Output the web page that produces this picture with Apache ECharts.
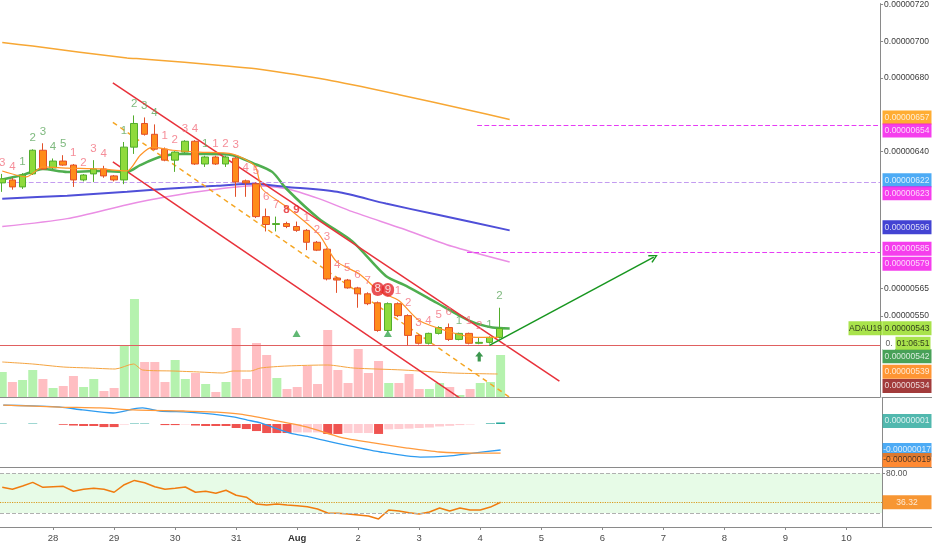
<!DOCTYPE html>
<html><head><meta charset="utf-8">
<script src="https://cdn.jsdelivr.net/npm/echarts@6/dist/echarts.min.js"></script>
<style>html,body{margin:0;padding:0;background:#fff}#c{width:932px;height:550px}</style>
</head><body><div id="c"></div>
<script>
// ADA/BTC 4h candles, prices in satoshi (1e-8 BTC); x = candle index (0 = Jul 27 04:00)
const candles = [ // [open, close, low, high]
 [622.7,624.9,617.8,627.6],[624.3,620.5,619.0,625.4],[620.5,627.0,619.4,628.0],[627.6,640.5,627.0,641.0],
 [640.5,630.3,629.7,644.3],[630.8,634.6,630.0,636.0],[634.6,632.4,632.0,637.8],[632.4,624.3,620.5,633.0],
 [624.3,627.0,623.5,627.5],[627.6,630.3,623.2,635.1],[630.3,626.5,625.5,632.0],[626.5,624.3,623.5,627.0],
 [624.3,642.2,622.0,645.0],[642.2,655.1,638.5,659.5],[655.1,649.2,648.5,658.4],[649.2,641.1,640.5,654.6],
 [641.1,635.1,634.5,642.0],[635.1,639.5,628.7,640.0],[639.5,645.4,639.0,646.0],[645.4,633.0,632.5,646.0],
 [633.0,636.8,631.4,637.5],[636.8,633.0,632.5,637.5],[633.0,636.8,631.4,637.5],[636.2,623.2,615.1,637.0],
 [623.8,622.7,615.1,624.5],[622.2,604.3,603.5,623.0],[604.3,600.0,596.2,608.7],[600.0,600.5,596.2,604.3],
 [600.5,598.9,598.0,601.5],[598.9,596.8,596.0,601.6],[596.8,590.3,586.0,597.5],[590.3,586.0,585.5,591.0],
 [586.5,570.3,569.5,587.0],[570.8,569.7,562.7,571.5],[569.7,565.4,565.0,570.3],[565.4,562.2,554.6,566.0],
 [562.2,556.8,556.0,563.0],[557.3,542.2,541.5,558.0],[542.2,556.8,541.5,557.5],[556.8,550.3,549.5,557.5],
 [550.3,539.5,534.1,551.0],[539.5,535.2,534.5,540.0],[535.2,540.6,534.5,541.0],[540.6,543.8,540.0,544.5],
 [543.8,537.3,536.5,546.0],[537.3,540.6,536.8,541.0],[540.6,535.2,534.6,541.0],[535.2,535.7,534.7,538.4],
 [535.7,538.4,535.0,539.0],[538.4,543.3,537.8,554.6]
];
const volumes = [25,15,17,27,18,9,11,21,10,18,6,9,51,98,35,35,15,37,18,24,13,5,15,69,18,54,42,19,8,10,31,13,67,27,14,48,24,36,14,14,23,8,8,14,10,2,8,14,15,42];
const volumeMA = [[0,35],[3,33],[6,30],[8.6,29],[11.1,28],[12.9,33],[13.8,27],[16.8,26],[19.4,25],[21.7,24],[22.7,26],[24.4,26],[25.4,29],[28,31],[32,32],[34.5,29],[39.4,27],[44.3,24],[48.7,23]];
const maFastOrange = [[0,629.2],[2.4,626.0],[4,631.4],[6.4,630.8],[9.6,630.3],[12.3,629.2],[13.6,637.8],[14.8,642.2],[16.8,640.5],[19.4,639.5],[22.7,638.4],[24.9,631.9],[25.6,619.5],[28,609.7],[31.2,594.6],[32.9,580.0],[35.2,573.0],[37.1,563.8],[39.1,558.4],[41.1,547.6],[44.3,541.1],[46.7,538.4],[48.9,538.4]];
const maGreen = [[0,624.5],[2,627],[4,630.3],[6.4,628.7],[9.6,629.2],[12.3,628.7],[13.6,632.4],[15.5,636.8],[17.5,638.4],[20.1,638.4],[22.7,637.8],[24.7,633.5],[26.6,628.7],[28,619.5],[31.2,603.2],[34.5,590.8],[37.8,571.9],[39.8,566.5],[42.8,557.3],[46,547.6],[48.3,543.8],[50,543.3]];
const maBlue = [[0,614.1],[6.4,615.7],[12.3,617.8],[16.2,619.5],[21.1,621.1],[24.7,622.2],[28,620.5],[33,617.8],[37.8,611.4],[42.8,605.4],[50,596.8]];
const maPink = [[0,598.9],[6.4,603.2],[12.3,610.8],[16.2,615.1],[20.7,618.9],[24.7,621.1],[28,619.5],[31.2,614.1],[34.5,607.0],[39.4,597.8],[44.3,588.1],[50,579.5]];
const maLongOrange = [[0,699.3],[3,697.3],[12.3,690.8],[13.8,690.3],[22.1,686.5],[25,684.9],[32,678.9],[39.1,670.8],[45.7,662.7],[50,657.3]];
const tdCounts = ['3','4','1','2','3','4','5','1','2','3','4','','1','2','3','4','1','2','3','4','1','1','2','3','4','5','6','7','8','9','1','2','3','4','5','6','7','8','9','1','2','3','4','5','6','1','1','2','1','2'];
const tdKinds  = ['s','s','g','g','g','g','g','s','s','s','s','','g','g','g','g','s','s','s','s','g','s','s','s','s','s','s','s','r','r','s','s','s','s','s','s','s','c','c','s','s','s','s','s','s','g','s','s','g','g'];
const channelUpper = [[10.9,677.3],[54.9,514.6]];
const channelLower = [[10.9,634.1],[46.5,500.0]];
const channelMid = [[10.9,655.7],[51.5,500.0]];
const arrowPath = [[48,534.1],[64.2,582.2]];
const signalMarks = [[29,540.5],[38,540.5]];
const upArrowMarks = [[47,528]];
const hLevels = [[654,46.8],[623,-0.22],[585,45.8],[534,-0.22]]; // [price, from candle idx]
const macdLine = [[0.1,12.4],[3,11.8],[5.7,11.1],[7.9,9.2],[10.9,7.2],[12.9,9.8],[13.8,10.5],[15.5,8.5],[18.2,7.8],[20.7,6.5],[22.7,4.6],[24.1,2.6],[25.4,0.7],[28.3,-5.9],[30.3,-8.5],[33.2,-13],[37.2,-18.3],[41.1,-21.6],[43.7,-21],[46.3,-19],[49,-17]];
const signalLine = [[0.1,12.4],[5.7,11.1],[9.6,10.5],[12.9,9.2],[17.8,8.5],[21.1,7.8],[23.4,6.5],[26.6,2.6],[30,-2],[33.2,-8.5],[36.5,-12.4],[39.8,-15.7],[43,-18.3],[46.3,-19],[49,-19]];
const macdHist = [0.3,0,0,0.3,0,0,-0.5,-1,-1.3,-1.3,-2,-2,-0.4,0.3,0.3,0,-0.7,-0.7,-0.3,-1,-1.3,-1.3,-1.3,-2.6,-3.3,-4.6,-5.9,-5.9,-5.9,-5.5,-5.5,-5.5,-6.5,-6.5,-5.9,-5.9,-5.9,-6.5,-3.5,-3.3,-3,-2.6,-2.3,-1.6,-1.2,-0.7,-0.3,0,0.4,1];
const rsiValues = [59,56,61,66.5,59,60,60.5,53,56,57.5,56,51.5,63,69.5,66,60,56,57.5,59.5,51.5,53,50,54.5,47,44,33.5,32,33.5,32,31,29.5,26,20,19.5,18.5,17,15.5,11,24.5,23,20.5,18.5,21.5,27.5,23,27.5,24.5,24.5,29,36.32];
const rsiBands = [80,20];
const dayLabels = ['28','29','30','31','Aug','2','3','4','5','6','7','8','9','10'];
const priceTicks = [550,565,640,680,700,720];
const priceTagValues = [657,654,622,623,596,585,579,543,542,539,534];
const macdTagValues = [1,-17,-19];
const rsiTagValues = [36.32];
const symbolName = 'ADAU19';
const countdown = '01:06:51';

// ---------- styles ----------
const FONT = '"Liberation Sans",Arial,sans-serif';
const FS = 8.5;
const X_MIN = -0.22, X_MAX = 86.5;
const P_MIN = 505.9, P_MAX = 720.5, M_MIN = -28.1, M_MAX = 17, R_MIN = -1.3, R_MAX = 88.4;
const AX = '#8a8a8a';
const priceTagStyle = [
 {bg:'#ff9800',fg:'#fff',dy:0},{bg:'#f20ee8',fg:'#fff',dy:7.5},{bg:'#2196f3',fg:'#fff',dy:-2},
 {bg:'#f20ee8',fg:'#fff',dy:13},{bg:'#1414c8',fg:'#fff',dy:-3},{bg:'#f20ee8',fg:'#fff',dy:-2},
 {bg:'#f20ee8',fg:'#fff',dy:2},{bg:'#93dc1e',fg:'#111',dy:0},{bg:'#1a8a2e',fg:'#fff',dy:26},
 {bg:'#ff7a00',fg:'#fff',dy:36},{bg:'#8b0a0a',fg:'#fff',dy:41}];
const macdTagStyle = [{bg:'#26a69a',fg:'#fff',dy:-1.5},{bg:'#2196f3',fg:'#fff',dy:0},{bg:'#ff6d00',fg:'#222',dy:7}];
const levelStyle = [{c:'#e63cf5',t:'dashed'},{c:'#c39cf0',t:'dashed'},{c:'#e63cf5',t:'dashed'},{c:'#e06060',t:'solid'}];
const tdStyle = {
 g:{color:'#5ea85e'}, s:{color:'#f2707e'}, r:{color:'#e3262b', fontWeight:'bold'},
 c:{color:'#fff', backgroundColor:'#e3262b', borderRadius:8, padding:[1,3]}};
const fmt8 = v => (v / 1e8).toFixed(8);

const dayTickIdx = dayLabels.map((_, k) => 5 + 6 * k);

function xAx(grid, showLine) {
  return {type:'value', gridIndex:grid, min:X_MIN, max:X_MAX, splitLine:{show:false},
    axisTick:{show:false}, axisLabel:{show:false},
    axisLine:{show:showLine, onZero:false, lineStyle:{color:AX}}};
}
function tagX(grid) {
  return {type:'value', gridIndex:grid, min:0, max:1, splitLine:{show:false}, axisTick:{show:false},
    axisLabel:{show:false}, axisLine:{show:true, onZero:false, lineStyle:{color:AX}}};
}
function hiddenY(grid, min, max) {
  return {type:'value', gridIndex:grid, min, max, show:false, splitLine:{show:false}, axisLine:{onZero:false}};
}
function line(data, color, width, extra) {
  return Object.assign({type:'line', xAxisIndex:0, yAxisIndex:0, data, symbol:'none', silent:true,
    smooth:0.25, itemStyle:{color}, lineStyle:{color, width}, z:4}, extra || {});
}
function tag(v, st, w, extra) {
  return Object.assign({value:[0.5, v], symbolSize:[w || 49, 14], symbolOffset:[0, st.dy],
    itemStyle:{color:st.bg},
    label:{show:true, position:'inside', formatter:fmt8(v), color:st.fg, fontSize:FS, fontFamily:FONT}}, extra || {});
}

// candle-derived per-item colours
const volData = volumes.map((v, i) => ({value:[i, v],
  itemStyle:{color: candles[i][1] >= candles[i][0] ? '#b5f2ae' : '#ffbec2'}}));
let prevH = 0, falling = true;
const histData = macdHist.map((h, i) => {
  if (h < prevH) falling = true; else if (h > prevH) falling = false;
  prevH = h;
  let col = h >= 0 ? (falling ? '#b2dfdb' : '#26a69a') : (falling ? '#ef5350' : '#ffcdd2');
  return {value:[i, h], itemStyle:{color:col}};
});
const tdData = [];
candles.forEach((c, i) => {
  if (!tdCounts[i]) return;
  tdData.push({value:[i, c[3]], label:Object.assign({show:true, position:'top', distance:5,
    formatter:tdCounts[i], fontSize:11.5, fontFamily:FONT}, tdStyle[tdKinds[i]])});
});

const series = [
  {type:'bar', xAxisIndex:1, yAxisIndex:1, data:volData, barWidth:9, z:1, silent:true},
  line(volumeMA, '#f5a440', 1, {xAxisIndex:1, yAxisIndex:1, z:2}),
  // horizontal levels as markLines
  {type:'line', xAxisIndex:0, yAxisIndex:0, data:[], silent:true, z:3,
   markLine:{silent:true, symbol:'none', label:{show:false}, animation:false,
     data:hLevels.map((l, k) => [
       {coord:[l[1], l[0]], lineStyle:{color:levelStyle[k].c, width:1.2, type:levelStyle[k].t, opacity:1}},
       {coord:[X_MAX, l[0]]}])}},
  line(maLongOrange, '#f7a734', 1.5),
  line(maPink, '#ea8ee4', 1.5),
  line(maBlue, '#4f4fd8', 2),
  line(maGreen, '#4fae4f', 2.5),
  line(maFastOrange, '#ff9326', 1.2, {z:6}),
  line(channelUpper, '#e8313a', 1.5, {smooth:false}),
  line(channelLower, '#e8313a', 1.5, {smooth:false}),
  line(channelMid, '#f5a623', 1.5, {smooth:false, lineStyle:{color:'#f5a623', width:1.5, type:[5,4]},
    markLine:{silent:true, symbol:['none','path://M0,9L5,0L10,9L8.6,9.8L5,3L1.4,9.8Z'], symbolSize:[9,9],
      label:{show:false}, lineStyle:{color:'#17961f', width:1.5, type:'solid'},
      data:[[{coord:arrowPath[0]}, {coord:arrowPath[1]}]]}}),
  {type:'candlestick', xAxisIndex:0, yAxisIndex:0, z:5, silent:true, barWidth:7,
   encode:{x:0, y:[1,2,3,4]},
   data:candles.map((c, i) => [i, c[0], c[1], c[2], c[3]]),
   itemStyle:{color:'#8fda3c', color0:'#ff8c1a', borderColor:'#52ad2c', borderColor0:'#e2502a', borderWidth:1}},
  {type:'scatter', xAxisIndex:0, yAxisIndex:0, z:7, silent:true, symbolSize:1,
   itemStyle:{color:'rgba(0,0,0,0)'}, data:tdData},
  {type:'scatter', xAxisIndex:0, yAxisIndex:0, z:7, silent:true, symbol:'triangle', symbolSize:[8,7],
   itemStyle:{color:'#3aa651'}, data:signalMarks},
  {type:'scatter', xAxisIndex:0, yAxisIndex:0, z:7, silent:true,
   symbol:'path://M5,0L10,5L7,5L7,10L3,10L3,5L0,5Z', symbolSize:[8,10],
   itemStyle:{color:'#0b7d22'}, data:upArrowMarks},
  {type:'bar', xAxisIndex:2, yAxisIndex:2, data:histData, barWidth:9, silent:true, z:2},
  line(macdLine, '#2d9bf0', 1.3, {xAxisIndex:2, yAxisIndex:2, z:3}),
  line(signalLine, '#ff9a3c', 1.3, {xAxisIndex:2, yAxisIndex:2, z:3}),
  {type:'line', xAxisIndex:3, yAxisIndex:3, data:rsiValues.map((v, i) => [i, v]), symbol:'none', silent:true,
   itemStyle:{color:'#f07c10'}, lineStyle:{color:'#f07c10', width:1.5}, z:4,
   markArea:{silent:true, itemStyle:{color:'#e7fbe7'}, data:[[{yAxis:rsiBands[1]}, {yAxis:rsiBands[0]}]]},
   markLine:{silent:true, symbol:'none', label:{show:false},
     data:[{yAxis:rsiBands[0], lineStyle:{color:'#b0b0b0', type:'dashed', width:1}},
           {yAxis:rsiBands[1], lineStyle:{color:'#b0b0b0', type:'dashed', width:1}},
           {yAxis:rsiValues[rsiValues.length - 1], lineStyle:{color:'#d99a1e', type:'dotted', width:1.2}}]}},
  {type:'scatter', xAxisIndex:4, yAxisIndex:4, z:10, silent:true, clip:false, symbol:'rect',
   data:[
     ...priceTagValues.map((v, k) => tag(v, priceTagStyle[k])),
     {value:[0.5, priceTagValues[7]], symbolSize:[34,14], symbolOffset:[-41.5,0], itemStyle:{color:'#93dc1e'},
      label:{show:true, position:'inside', formatter:symbolName, color:'#111', fontSize:FS, fontFamily:FONT}},
     {value:[0.5, priceTagValues[7]], symbolSize:[12,13], symbolOffset:[-18,15], itemStyle:{color:'#fff'},
      label:{show:true, position:'inside', formatter:'0.', color:'#333', fontSize:FS, fontFamily:FONT}},
     {value:[0.5, priceTagValues[7]], symbolSize:[35,13], symbolOffset:[6,15], itemStyle:{color:'#93dc1e'},
      label:{show:true, position:'inside', formatter:countdown, color:'#111', fontSize:FS, fontFamily:FONT}}
   ]},
  {type:'scatter', xAxisIndex:5, yAxisIndex:5, z:10, silent:true, clip:false, symbol:'rect',
   data:macdTagValues.map((v, k) => tag(v, macdTagStyle[k]))},
  {type:'scatter', xAxisIndex:6, yAxisIndex:6, z:10, silent:true, clip:false, symbol:'rect',
   data:rsiTagValues.map(v => tag(v, {bg:'#f57c00', fg:'#fff', dy:0}, 49,
     {label:{show:true, position:'inside', formatter:v.toFixed(2), color:'#fff', fontSize:FS, fontFamily:FONT}}))}
];

const chart = echarts.init(document.getElementById('c'), null, {renderer:'canvas'});
chart.setOption({
  animation:false, backgroundColor:'#ffffff',
  grid:[
    {left:0, right:50, top:0, height:397},
    {left:0, right:50, top:297, height:100},
    {left:0, right:50, top:398, height:69},
    {left:0, right:50, top:468, height:59},
    {left:882, right:0, top:0, height:397},
    {left:882, right:0, top:398, height:69},
    {left:882, right:0, top:468, height:59}
  ],
  xAxis:[
    xAx(0, true), xAx(1, false), xAx(2, true),
    Object.assign(xAx(3, true), {
      axisTick:{show:true, length:3, customValues:dayTickIdx, lineStyle:{color:AX}},
      axisLabel:{show:true, customValues:dayTickIdx, margin:6, fontSize:9.5, fontFamily:FONT, color:'#4a4a4a',
        formatter:(v) => { const k = dayTickIdx.indexOf(Math.round(v)); const t = dayLabels[k];
          return t === 'Aug' ? '{b|Aug}' : t; },
        rich:{b:{fontWeight:'bold', fontSize:9.5, fontFamily:FONT, color:'#333'}}}}),
    tagX(4), tagX(5), tagX(6)
  ],
  yAxis:[
    {type:'value', gridIndex:0, position:'right', min:P_MIN, max:P_MAX, splitLine:{show:false},
     axisLine:{show:true, onZero:false, lineStyle:{color:AX}},
     axisTick:{show:true, length:3, customValues:priceTicks, lineStyle:{color:AX}},
     axisLabel:{customValues:priceTicks, formatter:fmt8, color:'#3c3c3c', fontSize:FS, fontFamily:FONT, margin:4}},
    hiddenY(1, 0, 100),
    {type:'value', gridIndex:2, position:'right', min:M_MIN, max:M_MAX, splitLine:{show:false},
     axisLine:{show:true, onZero:false, lineStyle:{color:AX}}, axisTick:{show:false}, axisLabel:{show:false}},
    {type:'value', gridIndex:3, position:'right', min:R_MIN, max:R_MAX, splitLine:{show:false},
     axisLine:{show:true, onZero:false, lineStyle:{color:AX}},
     axisTick:{show:true, length:3, customValues:[rsiBands[0]], lineStyle:{color:AX}},
     axisLabel:{customValues:[rsiBands[0]], formatter:v => v.toFixed(2), color:'#555', fontSize:FS, fontFamily:FONT, margin:4}},
    hiddenY(4, P_MIN, P_MAX), hiddenY(5, M_MIN, M_MAX), hiddenY(6, R_MIN, R_MAX)
  ],
  series
});
</script></body></html>
